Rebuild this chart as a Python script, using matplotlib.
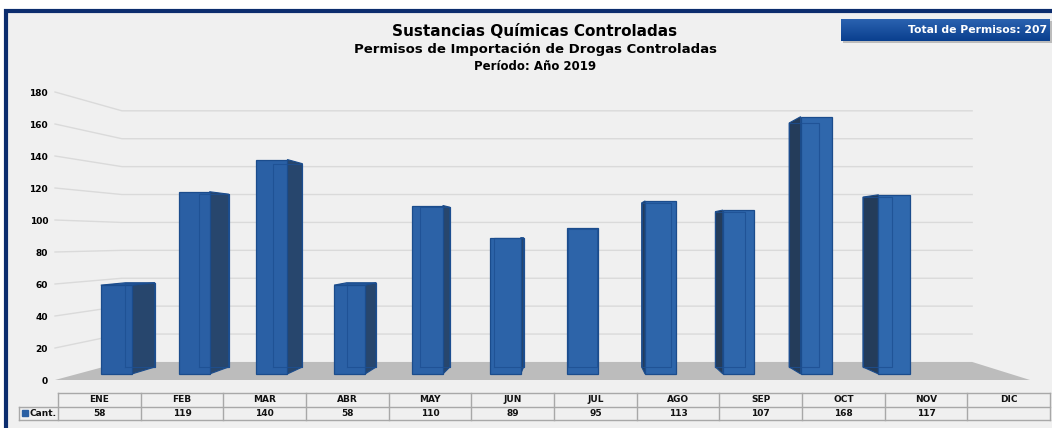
import matplotlib
matplotlib.use("Agg")
import matplotlib.pyplot as plt
from matplotlib.patches import Polygon, Rectangle
from matplotlib.colors import to_rgb
import numpy as np

# ---------------- data ----------------
months = ["ENE", "FEB", "MAR", "ABR", "MAY", "JUN", "JUL", "AGO", "SEP", "OCT", "NOV", "DIC"]
cant = [58, 119, 140, 58, 110, 89, 95, 113, 107, 168, 117, None]
y_ticks = [0, 20, 40, 60, 80, 100, 120, 140, 160, 180]
title = "Sustancias Químicas Controladas"
subtitle = "Permisos de Importación de Drogas Controladas"
period = "Período: Año 2019"
total_label = "Total de Permisos: 207"
series_name = "Cant."

# ---------------- figure ----------------
W, H = 1052, 428
fig = plt.figure(figsize=(W / 100, H / 100), dpi=100)
fig.patch.set_facecolor("white")


def fx(px):
    return px / W


def fy(py):
    return 1 - py / H


# outer frame (background axes)
bg = fig.add_axes([0, 0, 1, 1], zorder=-10)
bg.set_xlim(0, W)
bg.set_ylim(H, 0)
bg.axis("off")
bg.add_patch(Rectangle((6, 11), 1075 - 6, 445 - 11, facecolor="#f0f0f0",
                       edgecolor="#0c2d6e", lw=3, clip_on=False))
# shadow of total box
bg.add_patch(Rectangle((843, 21), 1052 - 843, 22, facecolor="#9a9a9a",
                       edgecolor="none", alpha=0.6, clip_on=False))

# titles
fig.text(fx(535), fy(31), title, ha="center", va="center", fontsize=11,
         fontweight="bold", color="black")
fig.text(fx(536), fy(50), subtitle, ha="center", va="center", fontsize=9.5,
         fontweight="bold", color="black")
fig.text(fx(535), fy(67), period, ha="center", va="center", fontsize=8.5,
         fontweight="bold", color="black")

# total box with gradient
bax = fig.add_axes([fx(841), fy(41), fx(1050) - fx(841), fy(19) - fy(41)], zorder=2)
c_top = np.array(to_rgb("#2a62b0"))
c_bot = np.array(to_rgb("#0a3f8e"))
grad = np.linspace(0, 1, 50)[:, None]
img = c_top[None, None, :] * (1 - grad[:, :, None]) + c_bot[None, None, :] * grad[:, :, None]
img = np.repeat(img, 2, axis=1)
bax.imshow(img, aspect="auto", extent=(0, 1, 0, 1), origin="upper")
bax.set_xlim(0, 1)
bax.set_ylim(0, 1)
bax.axis("off")
bax.text(0.985, 0.5, total_label, ha="right", va="center", color="white",
         fontsize=7.8, fontweight="bold", transform=bax.transAxes)

# ---------------- main 3D-like axes ----------------
ax = fig.add_axes([fx(55), fy(380), fx(1030) - fx(55), fy(92) - fy(380)], zorder=1)
ax.set_xlim(0, len(months))
ax.set_ylim(y_ticks[0], y_ticks[-1])
ax.patch.set_visible(False)
for sp in ax.spines.values():
    sp.set_visible(False)
ax.set_xticks([])
ax.set_yticks(y_ticks)
ax.set_yticklabels([str(v) for v in y_ticks], fontsize=6.5, fontweight="bold")
ax.tick_params(axis="y", length=0, pad=5)

S_BACK = 0.872
VX, VY = 6.437, 88.1


def proj(x, y, t):
    s = 1 - (1 - S_BACK) * t
    return (VX + (x - VX) * s, VY + (y - VY) * s)


n = len(months)
# back wall gridlines
for v in y_ticks[1:]:
    pts = [proj(0, v, 0), proj(0, v, 1), proj(n, v, 1)]
    ax.plot([p[0] for p in pts], [p[1] for p in pts], color="#dadada", lw=1,
            zorder=1, clip_on=False)

# floor
floor = Polygon([proj(0, 0, 0), proj(n, 0, 0), proj(n, 0, 1), proj(0, 0, 1)],
                closed=True, facecolor="#bcbcbc", edgecolor="none", zorder=2,
                clip_on=False)
ax.add_patch(floor)

# bars
T0, T1 = 0.335, 0.72
HALF = 0.2
c_left = np.array(to_rgb("#295ea3"))
c_right = np.array(to_rgb("#3069ae"))
edge_col = "#1b4c8c"
side_left = "#27466d"
side_right = "#243c5a"
for i, v in enumerate(cant):
    if v is None:
        continue
    x0, x1 = i + 0.5 - HALF, i + 0.5 + HALF
    frac = i / (n - 1)
    fcol = tuple(c_left * (1 - frac) + c_right * frac)
    back = [proj(x0, 0, T1), proj(x1, 0, T1), proj(x1, v, T1), proj(x0, v, T1)]
    front = [proj(x0, 0, T0), proj(x1, 0, T0), proj(x1, v, T0), proj(x0, v, T0)]
    ax.add_patch(Polygon(back, closed=True, facecolor=fcol, edgecolor=edge_col,
                         lw=0.8, zorder=3, clip_on=False))
    if x1 < VX:
        side = [proj(x1, 0, T0), proj(x1, 0, T1), proj(x1, v, T1), proj(x1, v, T0)]
        ax.add_patch(Polygon(side, closed=True, facecolor=side_left, edgecolor=edge_col,
                             lw=0.8, zorder=4, clip_on=False))
    elif x0 > VX:
        side = [proj(x0, 0, T0), proj(x0, 0, T1), proj(x0, v, T1), proj(x0, v, T0)]
        ax.add_patch(Polygon(side, closed=True, facecolor=side_right, edgecolor=edge_col,
                             lw=0.8, zorder=4, clip_on=False))
    if v < VY:
        top = [proj(x0, v, T0), proj(x1, v, T0), proj(x1, v, T1), proj(x0, v, T1)]
        ax.add_patch(Polygon(top, closed=True, facecolor=fcol, edgecolor=edge_col,
                             lw=0.8, zorder=4, clip_on=False))
    ax.add_patch(Polygon(front, closed=True, facecolor=fcol, edgecolor=edge_col,
                         lw=0.9, zorder=5, clip_on=False))
    # hidden back edges seen through the glassy front face
    bx = [p[0] for p in back] + [back[0][0]]
    by = [p[1] for p in back] + [back[0][1]]
    ax.plot(bx, by, color="#1d4f92", lw=0.8, alpha=0.8, zorder=6, clip_on=False)

# ---------------- data table ----------------
leg_w = 39 / 82.67
tax = fig.add_axes([fx(19), fy(420), fx(1050) - fx(19), fy(393) - fy(420)], zorder=1)
tax.set_xlim(-leg_w, n)
tax.set_ylim(0, 2)
tax.axis("off")
line_kw = dict(color="#a8a8a8", lw=1, clip_on=False)
tax.plot([0, n], [2, 2], **line_kw)
tax.plot([-leg_w, n], [1, 1], **line_kw)
tax.plot([-leg_w, n], [0, 0], **line_kw)
for k in range(n + 1):
    tax.plot([k, k], [0, 2], **line_kw)
tax.plot([-leg_w, -leg_w], [0, 1], **line_kw)
for i, m in enumerate(months):
    tax.text(i + 0.5, 1.5, m, ha="center", va="center", fontsize=6.5,
             fontweight="bold", color="#111111")
    if cant[i] is not None:
        tax.text(i + 0.5, 0.5, str(cant[i]), ha="center", va="center", fontsize=6.5,
                 fontweight="bold", color="#111111")
tax.plot([-leg_w + 0.07], [0.5], marker="s", markersize=5, color="#2a5fa3",
         clip_on=False)
tax.text(-leg_w + 0.13, 0.5, series_name, ha="left", va="center", fontsize=6.5,
         fontweight="bold", color="#111111")

fig.savefig("out.png", dpi=100, facecolor=fig.get_facecolor())
